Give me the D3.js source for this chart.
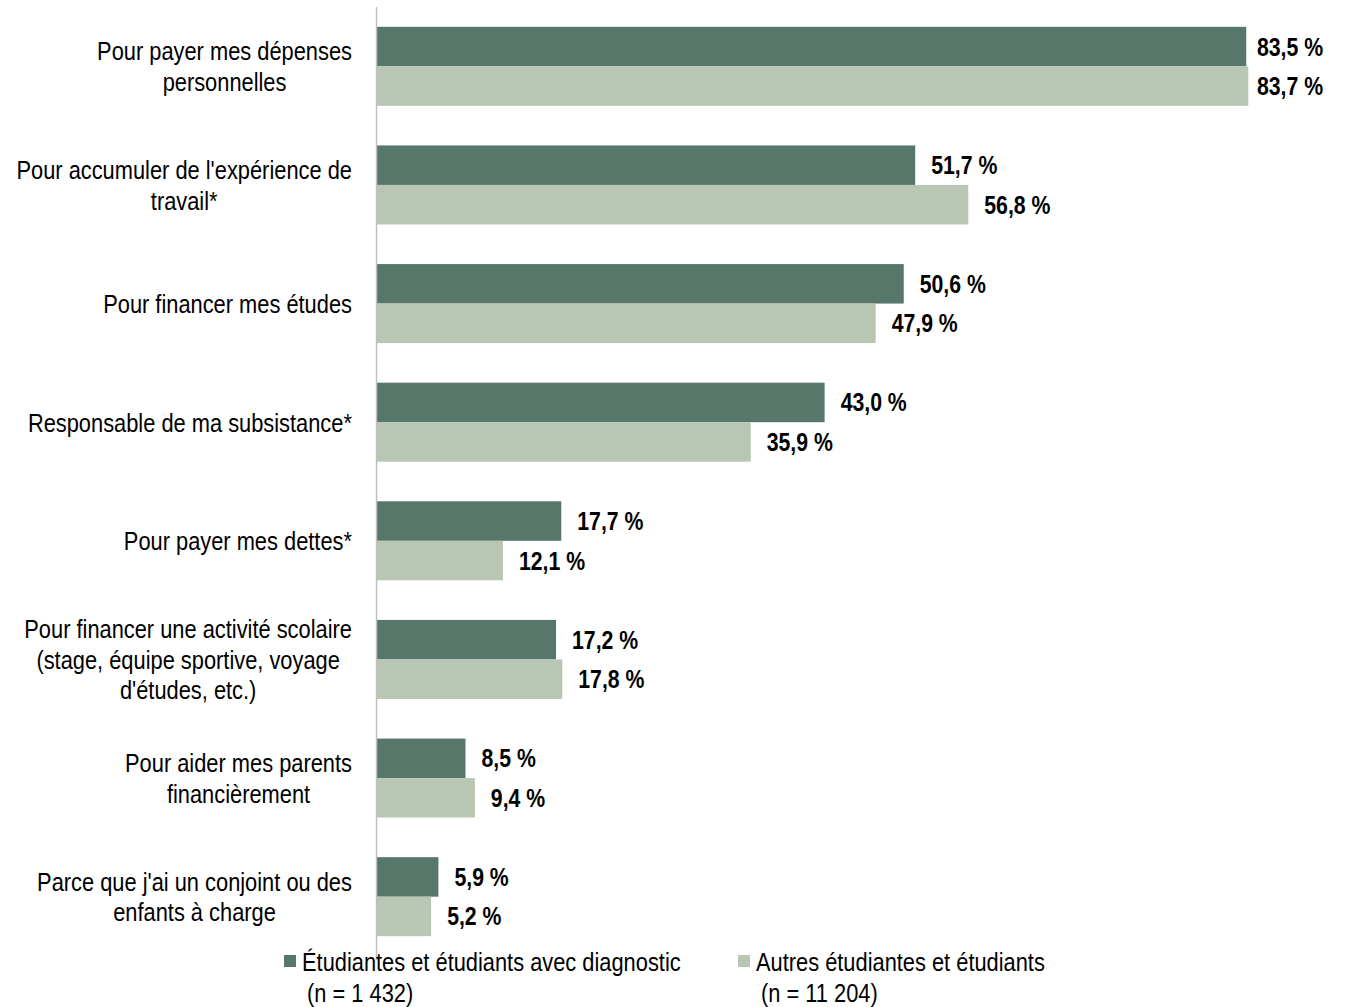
<!DOCTYPE html>
<html>
<head>
<meta charset="utf-8">
<script src="https://cdn.jsdelivr.net/npm/d3@7"></script>
<style>
  body { margin: 0; background: #fff; }
  text { font-family: "Liberation Sans", Arial, sans-serif; fill: #000; }
</style>
</head>
<body>
<div class="plot"></div>
<script>
// data
var categories = [
    ["Pour payer mes dépenses", "personnelles"],
    ["Pour accumuler de l'expérience de", "travail*"],
    ["Pour financer mes études"],
    ["Responsable de ma subsistance*"],
    ["Pour payer mes dettes*"],
    ["Pour financer une activité scolaire", "(stage, équipe sportive, voyage", "d'études, etc.)"],
    ["Pour aider mes parents", "financièrement"],
    ["Parce que j'ai un conjoint ou des", "enfants à charge"]
];
var diagValues = [83.5, 51.7, 50.6, 43.0, 17.7, 17.2, 8.5, 5.9];
var autresValues = [83.7, 56.8, 47.9, 35.9, 12.1, 17.8, 9.4, 5.2];
var seriesNames = [
    ["Étudiantes et étudiants avec diagnostic", "(n = 1 432)"],
    ["Autres étudiantes et étudiants", "(n = 11 204)"]
];
var colors = ["#57776a", "#b9c6b4"];

var svgWidth = 1347;
var svgHeight = 1007;
// narrow font imitation (Arial Narrow look)
var sx = 0.84;

var svg = d3.select(".plot")
    .append("svg")
    .attr("width", svgWidth)
    .attr("height", svgHeight);

var keys = categories.map((c, i) => i);

var x = d3.scaleLinear()
    .domain([0, 100])
    .range([377, 377 + 1041]);

var y0 = d3.scaleBand()
    .domain(keys)
    .range([7, 956])
    .paddingInner(0.334)
    .paddingOuter(0.167);

var y1 = d3.scaleBand()
    .domain([0, 1])
    .range([0, y0.bandwidth()]);

var fmt = v => d3.format(".1f")(v).replace(".", ",") + " %";

var groups = svg.selectAll("g.grp")
    .data(keys)
    .enter()
    .append("g")
    .attr("class", "grp")
    .attr("transform", d => `translate(0, ${y0(d)})`);

groups.selectAll("rect")
    .data(d => [diagValues[d], autresValues[d]])
    .enter()
    .append("rect")
    .attr("x", x(0))
    .attr("y", (d, i) => y1(i))
    .attr("width", d => x(d) - x(0))
    .attr("height", y1.bandwidth())
    .attr("fill", (d, i) => colors[i]);

groups.selectAll("text.val")
    .data(d => [diagValues[d], autresValues[d]])
    .enter()
    .append("text")
    .attr("class", "val")
    .attr("transform", (d, i) => `translate(${Math.min(x(d) + 16, 1257)}, ${y1(i) + y1.bandwidth() / 2}) scale(0.85, 1)`)
    .attr("dy", "0.36em")
    .attr("font-size", "25px")
    .attr("font-weight", "bold")
    .text(fmt);

// category labels, lines centred inside a right-aligned block
var lineH = 30.5;
groups.append("g")
    .attr("class", "cat")
    .each(function (d) {
        var lines = categories[d];
        var mid = y0.bandwidth() / 2;
        var start = mid - (lines.length - 1) * lineH / 2;
        var g = d3.select(this);
        var texts = lines.map(function (l, j) {
            return g.append("text")
                .attr("text-anchor", "middle")
                .attr("font-size", "26px")
                .attr("dy", "0.36em")
                .datum(start + j * lineH)
                .text(l);
        });
        var maxW = d3.max(texts, t => t.node().getComputedTextLength()) * sx;
        var cx = 352 - maxW / 2;
        texts.forEach(t => t.attr("transform", yy => `translate(${cx}, ${yy}) scale(${sx}, 1)`));
    });

// axis line
svg.append("line")
    .attr("x1", x(0) - 0.5).attr("x2", x(0) - 0.5)
    .attr("y1", 7).attr("y2", 960)
    .attr("stroke", "#bfbfbf")
    .attr("stroke-width", 1.5);

// legend
var legendX = [284, 738];
seriesNames.forEach(function (s, i) {
    var lg = svg.append("g").attr("transform", `translate(${legendX[i]}, 0)`);
    lg.append("rect")
        .attr("x", 0).attr("y", 955)
        .attr("width", 12).attr("height", 12)
        .attr("fill", colors[i]);
    lg.append("text")
        .attr("transform", `translate(18, 962) scale(${sx}, 1)`)
        .attr("dy", "0.36em")
        .attr("font-size", "26px")
        .text(s[0]);
    lg.append("text")
        .attr("transform", `translate(23, 993) scale(${sx}, 1)`)
        .attr("dy", "0.36em")
        .attr("font-size", "26px")
        .text(s[1]);
});
</script>
</body>
</html>
